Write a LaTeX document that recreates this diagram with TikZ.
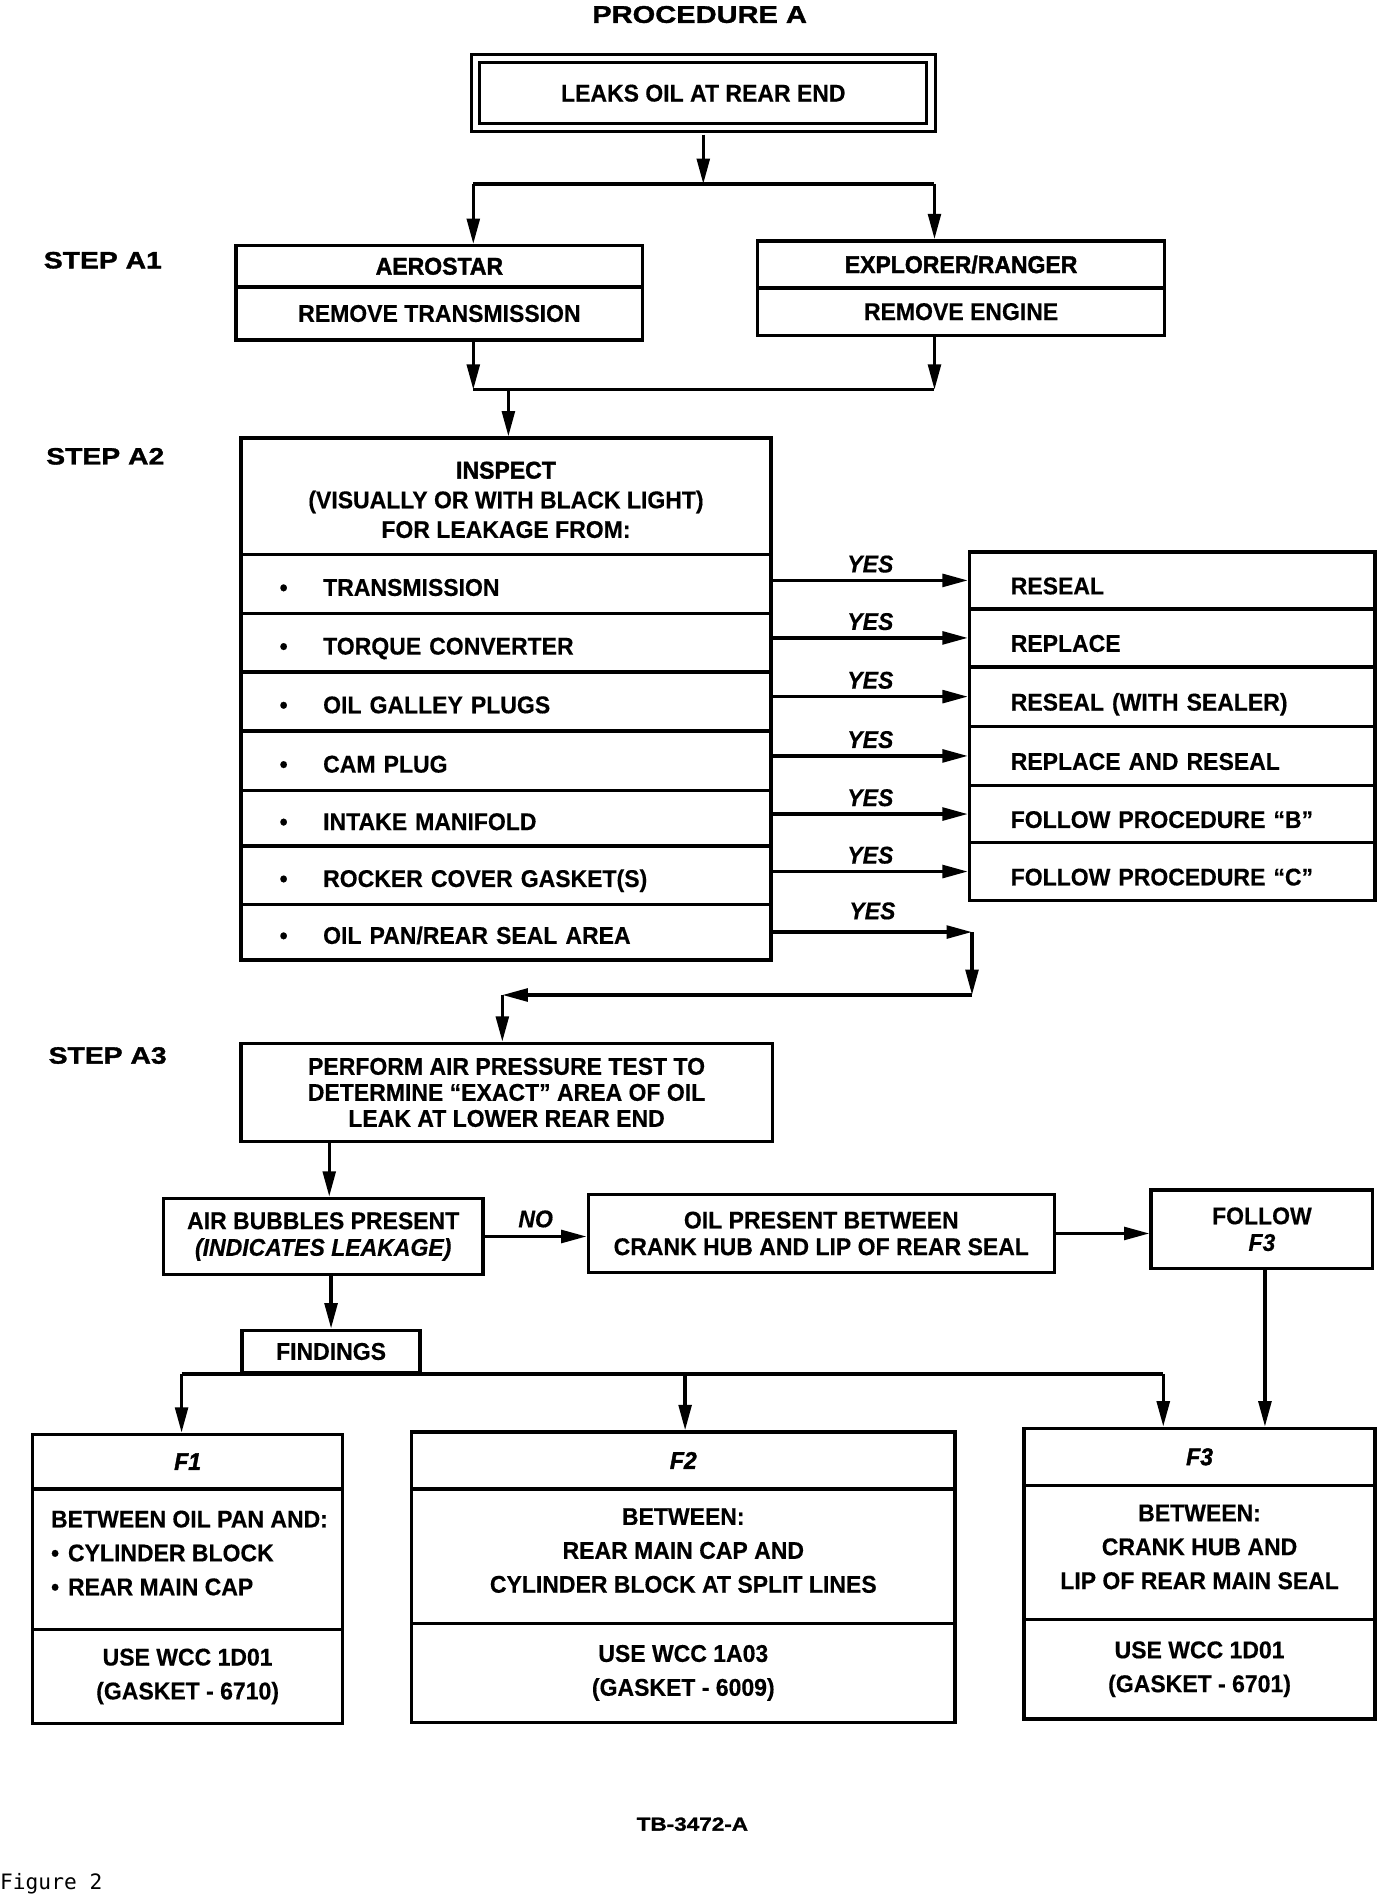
\documentclass[tikz,border=0pt]{standalone}
\usepackage{fontspec}
\setmainfont{Liberation Sans}[FakeStretch=0.95,BoldFeatures={FakeBold=0.4},BoldItalicFeatures={FakeBold=0.4}]
\newfontfamily\heavyfont{Liberation Sans}[FakeStretch=0.95,BoldFeatures={FakeBold=1.6},BoldItalicFeatures={FakeBold=1.6}]
\newfontfamily\widefont{Liberation Sans}[FakeStretch=1.2,BoldFeatures={FakeBold=1.4}]
\newfontfamily\figfont{DejaVu Sans Mono}
\usetikzlibrary{arrows.meta}
\newcommand\txtfs{\fontsize{20}{22}\selectfont\bfseries}
\newcommand\bul{\makebox[36pt][l]{\textbullet}}
\newcommand\sbul{\makebox[14pt][l]{\textbullet}}
\begin{document}
\begin{tikzpicture}[x=1pt,y=-1pt,
  box/.style={draw, line width=2.8pt, align=center, inner sep=0pt, font=\txtfs},
  hbox/.style={box, font=\heavyfont\txtfs},
  row/.style={box, text width=374pt, align=left, inner xsep=32pt, inner ysep=0pt, text height=19.5pt, text depth=0pt},
  res/.style={box, text width=267pt, align=left, inner xsep=34pt, inner ysep=0pt, text height=23pt, text depth=0pt},
  txt/.style={font=\txtfs, align=center, inner sep=0pt},
  conn/.style={line width=2.8pt, -{Triangle[length=21pt,width=10.5pt]}},
  plain/.style={line width=2.8pt},
  lbl/.style={font=\txtfs\itshape, inner sep=0pt},
  steplbl/.style={font=\widefont\bfseries\fontsize{19.5}{22}\selectfont, inner sep=0pt, anchor=west}]
\useasboundingbox (0,0) rectangle (1150,1568);

% title
\node[font=\widefont\bfseries\fontsize{20}{24}\selectfont, inner sep=0pt] (title) at (578,12) {PROCEDURE A};

% top box
\node[box, double, double distance=4.5pt, line width=2.5pt, minimum width=376pt, minimum height=57pt] (top) at (581,77) {LEAKS OIL AT REAR END};

% step A1
\node[steplbl] (s1) at (36,215) {STEP A1};
\node[hbox, minimum width=336pt, minimum height=34pt] (aeroH) at (363,220) {AEROSTAR};
\node[box, minimum width=336pt, minimum height=44pt] (aeroB) at (363,259) {REMOVE TRANSMISSION};
\node[hbox, minimum width=336pt, minimum height=39pt] (explH) at (794,218.5) {EXPLORER/RANGER};
\node[box, minimum width=336pt, minimum height=39pt] (explB) at (794,257.5) {REMOVE ENGINE};

\coordinate (j1) at (581,152);
\coordinate (j1l) at (391,152);
\coordinate (j1r) at (772,152);
\draw[conn] ([yshift=-4.5pt]top.south) -- (j1);
\draw[plain] (j1l) -- (j1r);
\draw[conn] (j1l) -- (j1l |- aeroH.north);
\draw[conn] (j1r) -- (j1r |- explH.north);

\coordinate (m2l) at (391,322);
\coordinate (m2r) at (772,322);
\coordinate (m2c) at (420,322);
\draw[conn] (aeroB.south -| m2l) -- (m2l);
\draw[conn] (explB.south -| m2r) -- (m2r);
\draw[plain] (m2l) -- (m2r);

% step A2
\node[steplbl] (s2) at (38,377) {STEP A2};
\node[box, minimum width=438pt, minimum height=96pt] (insp) at (418,410) {};
\node[txt, font=\txtfs\fontsize{20}{24.5}\selectfont] (inspT) at (418,413) {{\heavyfont INSPECT}\\(VISUALLY OR WITH BLACK LIGHT)\\FOR LEAKAGE FROM:};
\draw[conn] (m2c) -- (m2c |- insp.north);

\node[row, minimum height=49pt] (r1) at (418,482.5) {\bul TRANSMISSION};
\node[row, minimum height=48pt] (r2) at (418,531) {\bul TORQUE CONVERTER};
\node[row, minimum height=49pt] (r3) at (418,579.5) {\bul OIL GALLEY PLUGS};
\node[row, minimum height=49pt] (r4) at (418,628.5) {\bul CAM PLUG};
\node[row, minimum height=46pt] (r5) at (418,676) {\bul INTAKE MANIFOLD};
\node[row, minimum height=48pt] (r6) at (418,723) {\bul ROCKER COVER GASKET(S)};
\node[row, minimum height=46pt] (r7) at (418,770) {\bul OIL PAN/REAR SEAL AREA};

\node[res, minimum height=47pt] (e1) at (968.5,479.5) {RESEAL};
\node[res, minimum height=48pt] (e2) at (968.5,527) {REPLACE};
\node[res, minimum height=49pt] (e3) at (968.5,575.5) {RESEAL (WITH SEALER)};
\node[res, minimum height=49pt] (e4) at (968.5,624.5) {REPLACE AND RESEAL};
\node[res, minimum height=47pt] (e5) at (968.5,672.5) {FOLLOW PROCEDURE “B”};
\node[res, minimum height=48pt] (e6) at (968.5,720) {FOLLOW PROCEDURE “C”};

\draw[conn] (r1.east |- e1.west) -- node[lbl, above=5pt] (y1) {YES} (e1.west);
\draw[conn] (r2.east |- e2.west) -- node[lbl, above=5pt] (y2) {YES} (e2.west);
\draw[conn] (r3.east |- e3.west) -- node[lbl, above=5pt] (y3) {YES} (e3.west);
\draw[conn] (r4.east |- e4.west) -- node[lbl, above=5pt] (y4) {YES} (e4.west);
\draw[conn] (r5.east |- e5.west) -- node[lbl, above=5pt] (y5) {YES} (e5.west);
\draw[conn] (r6.east |- e6.west) -- node[lbl, above=5pt] (y6) {YES} (e6.west);
\coordinate (c1) at (803,770);
\coordinate (c2) at (803,822);
\coordinate (c3) at (415,822);
\draw[conn] (r7.east |- c1) -- node[lbl, above=9pt] (y7) {YES} (c1);
\draw[conn] (c1) -- (c2);
\draw[conn] (c2) -- (c3);

% step A3
\node[steplbl] (s3) at (40,872) {STEP A3};
\node[box, minimum width=439pt, minimum height=81pt, font=\txtfs\fontsize{20}{21.5}\selectfont] (a3) at (418.5,902.5) {PERFORM AIR PRESSURE TEST TO\\DETERMINE “EXACT” AREA OF OIL\\LEAK AT LOWER REAR END};
\draw[conn] (c3) -- (c3 |- a3.north);

\node[box, minimum width=264pt, minimum height=63pt] (air) at (267,1021.5) {AIR BUBBLES PRESENT\\\textit{(INDICATES LEAKAGE)}};
\node[box, minimum width=385pt, minimum height=64pt] (oil) at (678.5,1019) {OIL PRESENT BETWEEN\\CRANK HUB AND LIP OF REAR SEAL};
\node[box, minimum width=183pt, minimum height=65pt] (fol) at (1042.5,1015.5) {FOLLOW\\\textit{F3}};
\draw[conn] (a3.south -| 272,0) -- (air.north -| 272,0);
\draw[conn] (air.east) -- node[lbl, above=6pt] (no) {NO} (air.east -| oil.west);
\draw[conn] (oil.east) -- (oil.east -| fol.west);

\node[box, minimum width=147pt, minimum height=35pt] (find) at (273.5,1116.5) {FINDINGS};
\draw[conn] (air.south -| find.north) -- (find.north);

% findings
\node[hbox, minimum width=256pt, minimum height=45pt] (f1H) at (155,1207.5) {\itshape F1};
\node[box, minimum width=256pt, minimum height=116pt] (f1M) at (155,1288) {};
\node[txt, font=\txtfs\fontsize{20}{28}\selectfont, align=left, anchor=west] (f1T) at (42,1283) {BETWEEN OIL PAN AND:\\\sbul CYLINDER BLOCK\\\sbul REAR MAIN CAP};
\node[box, minimum width=256pt, minimum height=78pt, font=\txtfs\fontsize{20}{28}\selectfont] (f1B) at (155,1385) {USE WCC 1D01\\(GASKET - 6710)};

\node[hbox, minimum width=449pt, minimum height=47pt] (f2H) at (564.5,1206.5) {\itshape F2};
\node[box, minimum width=449pt, minimum height=111pt] (f2M) at (564.5,1285.5) {};
\node[txt, font=\txtfs\fontsize{20}{28}\selectfont] (f2T) at (564.5,1281) {BETWEEN:\\REAR MAIN CAP AND\\CYLINDER BLOCK AT SPLIT LINES};
\node[box, minimum width=449pt, minimum height=82pt, font=\txtfs\fontsize{20}{28}\selectfont] (f2B) at (564.5,1382) {USE WCC 1A03\\(GASKET - 6009)};

\node[hbox, minimum width=290pt, minimum height=47pt] (f3H) at (991,1203.5) {\itshape F3};
\node[box, minimum width=290pt, minimum height=111pt] (f3M) at (991,1282.5) {};
\node[txt, font=\txtfs\fontsize{20}{28}\selectfont] (f3T) at (991,1278) {BETWEEN:\\CRANK HUB AND\\LIP OF REAR MAIN SEAL};
\node[box, minimum width=290pt, minimum height=82pt, font=\txtfs\fontsize{20}{28}\selectfont] (f3B) at (991,1379) {USE WCC 1D01\\(GASKET - 6701)};

\coordinate (fl) at (150,1135);
\coordinate (fm) at (566,1135);
\coordinate (fr) at (961,1135);
\draw[plain] (fl) -- (fr);
\draw[conn] (fl) -- (fl |- f1H.north);
\draw[conn] (fm) -- (fm |- f2H.north);
\draw[conn] (fr) -- (fr |- f3H.north);
\draw[conn] (fol.south -| 1045,0) -- (f3H.north -| 1045,0);

\node[font=\widefont\bfseries\fontsize{15.5}{18}\selectfont, inner sep=0pt] (tb) at (572,1507) {TB-3472-A};
\node[font=\figfont\fontsize{17.5}{20}\selectfont, anchor=west, inner sep=0pt] (fig) at (0,1556) {Figure 2};
\end{tikzpicture}
\end{document}
